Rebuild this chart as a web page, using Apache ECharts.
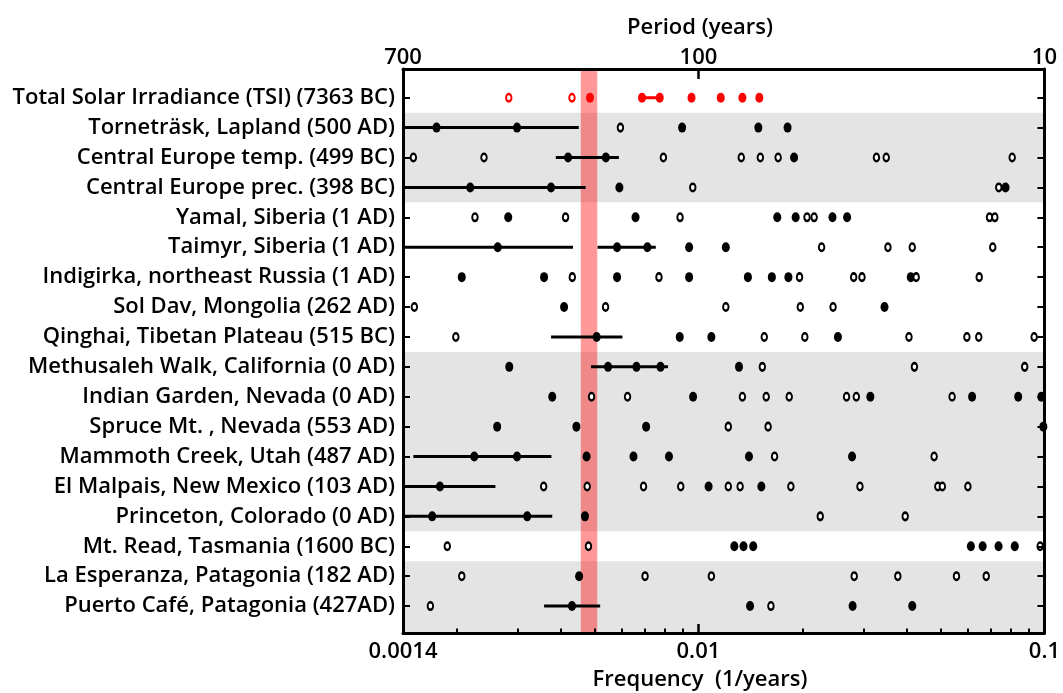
<!DOCTYPE html>
<html>
<head>
<meta charset="utf-8">
<script src="https://cdn.jsdelivr.net/npm/echarts@6/dist/echarts.min.js"></script>
<style>
html,body{margin:0;padding:0;background:#fff;}
#chart{width:1063px;height:693px;}
</style>
</head>
<body>
<div id="chart"></div>
<script>
// ---- data ----
const sites = [
  'Total Solar Irradiance (TSI) (7363 BC)',
  'Torneträsk, Lapland (500 AD)',
  'Central Europe temp. (499 BC)',
  'Central Europe prec. (398 BC)',
  'Yamal, Siberia (1 AD)',
  'Taimyr, Siberia (1 AD)',
  'Indigirka, northeast Russia (1 AD)',
  'Sol Dav, Mongolia (262 AD)',
  'Qinghai, Tibetan Plateau (515 BC)',
  'Methusaleh Walk, California (0 AD)',
  'Indian Garden, Nevada (0 AD)',
  'Spruce Mt. , Nevada (553 AD)',
  'Mammoth Creek, Utah (487 AD)',
  'El Malpais, New Mexico (103 AD)',
  'Princeton, Colorado (0 AD)',
  'Mt. Read, Tasmania (1600 BC)',
  'La Esperanza, Patagonia (182 AD)',
  'Puerto Café, Patagonia (427AD)'
];

// significant peaks (filled) per record, frequency in 1/years
const filledFreq = [
  [0.00486, 0.00687, 0.00773, 0.00955, 0.0116, 0.0134, 0.0150],
  [0.00175, 0.00299, 0.00897, 0.0149, 0.0181],
  [0.00420, 0.00540, 0.0189],
  [0.00219, 0.00375, 0.00591, 0.0772],
  [0.00282, 0.00658, 0.0169, 0.0191, 0.0244, 0.0269],
  [0.00263, 0.00582, 0.00712, 0.00940, 0.0120],
  [0.00207, 0.00358, 0.00582, 0.00940, 0.0139, 0.0163, 0.0182, 0.0411],
  [0.00409, 0.0345],
  [0.00508, 0.00883, 0.0109, 0.0253],
  [0.00284, 0.00548, 0.00662, 0.00777, 0.0131],
  [0.00378, 0.00965, 0.0314, 0.0618, 0.0840, 0.0980],
  [0.00262, 0.00444, 0.00706, 0.0993],
  [0.00225, 0.00299, 0.00475, 0.00649, 0.00822, 0.0140, 0.0278],
  [0.00179, 0.0107, 0.0152],
  [0.00170, 0.00320, 0.00470],
  [0.0127, 0.0135, 0.0144, 0.0613, 0.0663, 0.0737, 0.0821],
  [0.00452],
  [0.00431, 0.0141, 0.0279, 0.0415]
];

// weaker peaks (open) per record
const openFreq = [
  [0.00283, 0.00431],
  [0.00595],
  [0.00150, 0.00240, 0.00792, 0.0133, 0.0151, 0.0170, 0.0327, 0.0349, 0.0807],
  [0.00963, 0.0738],
  [0.00226, 0.00413, 0.00885, 0.0206, 0.0216, 0.0694, 0.0719],
  [0.0227, 0.0353, 0.0415, 0.0709],
  [0.00432, 0.00769, 0.0196, 0.0281, 0.0297, 0.0426, 0.0648],
  [0.00151, 0.00539, 0.0120, 0.0197, 0.0245],
  [0.00199, 0.0155, 0.0203, 0.0406, 0.0597, 0.0646, 0.0934],
  [0.0153, 0.0421, 0.0877],
  [0.00491, 0.00624, 0.0134, 0.0157, 0.0183, 0.0268, 0.0286, 0.0541],
  [0.0122, 0.0159],
  [0.0166, 0.0480],
  [0.00357, 0.00477, 0.00694, 0.00889, 0.0122, 0.0132, 0.0185, 0.0293, 0.0492, 0.0507, 0.0601],
  [0.0225, 0.0396],
  [0.00188, 0.00481, 0.0972],
  [0.00207, 0.00701, 0.0109, 0.0282, 0.0377, 0.0557, 0.0679],
  [0.00168, 0.0162]
];

// frequency ranges (horizontal bars) per record
const rangeFreq = [
  [[0.00687, 0.00773]],
  [[0.0014, 0.00451]],
  [[0.00387, 0.00589]],
  [[0.0014, 0.00472]],
  [],
  [[0.0014, 0.00434], [0.00511, 0.00753]],
  [],
  [],
  [[0.00375, 0.00603]],
  [[0.00489, 0.00817]],
  [],
  [],
  [[0.00150, 0.00376]],
  [[0.0014, 0.00259]],
  [[0.0014, 0.00378]],
  [],
  [],
  [[0.00358, 0.00520]]
];

const shadedGroups = [[1, 3], [9, 14], [16, 17]];   // rows on grey background
const deVriesBand = [0.00457, 0.0051];               // ~200-yr band (frequency)

const freqMin = 0.0014, freqMax = 0.1;
const freqTicks = [0.0014, 0.01, 0.1];
const freqTickLabels = ['0.0014', '0.01', '0.1'];
const periodTickLabels = ['700', '100', '10'];
const minorFreqTicks = [0.002,0.003,0.004,0.005,0.006,0.007,0.008,0.009,0.02,0.03,0.04,0.05,0.06,0.07,0.08,0.09];

// ---- build ----
const rowMin = -0.96, rowMax = 17.9;
const rows = sites.map((_, i) => i);

function pts(arr, tsi) {
  const out = [];
  arr.forEach((list, r) => {
    if ((r === 0) !== tsi) return;
    list.forEach(f => out.push([f, r]));
  });
  return out;
}
function segs(tsi) {
  const out = [];
  rangeFreq.forEach((list, r) => {
    if ((r === 0) !== tsi) return;
    list.forEach(s => out.push([s[0], s[1], r]));
  });
  return out;
}
function tickLabel(labels) {
  return v => {
    let best = 0, bd = Infinity;
    freqTicks.forEach((t, i) => {
      const d = Math.abs(Math.log10(v) - Math.log10(t));
      if (d < bd) { bd = d; best = i; }
    });
    return labels[best];
  };
}

const FONT = 'Open Sans';
const black = '#000';
const red = '#ff0000';

function segRender(color) {
  return function (params, api) {
    const p1 = api.coord([api.value(0), api.value(2)]);
    const p2 = api.coord([api.value(1), api.value(2)]);
    return {
      type: 'line',
      shape: { x1: p1[0], y1: p1[1], x2: p2[0], y2: p2[1] },
      style: { stroke: color, lineWidth: 3 }
    };
  };
}

const greyAreas = shadedGroups.map(g => [
  { yAxis: g[0] - 0.5 },
  { yAxis: g[1] === sites.length - 1 ? rowMax : g[1] + 0.5 }
]);

const chart = echarts.init(document.getElementById('chart'), null, { renderer: 'canvas' });

const axisLineStyle = { color: black, width: 3 };

chart.setOption({
  animation: false,
  backgroundColor: '#fff',
  grid: { left: 403, right: 18, top: 69, bottom: 60, containLabel: false },
  xAxis: [
    {
      type: 'log', logBase: 10, min: freqMin, max: freqMax, position: 'bottom', z: 10,
      axisLine: { onZero: false, lineStyle: axisLineStyle },
      axisTick: { inside: true, length: 9, customValues: [0.01], lineStyle: { color: black, width: 2.5 } },
      axisLabel: { customValues: freqTicks, formatter: tickLabel(freqTickLabels), color: black,
        fontFamily: FONT, fontWeight: 600, fontSize: 22, margin: 8 },
      splitLine: { show: false }, minorTick: { show: false }
    },
    {
      type: 'log', logBase: 10, min: freqMin, max: freqMax, position: 'top', z: 10,
      axisLine: { onZero: false, lineStyle: axisLineStyle },
      axisTick: { inside: true, length: 10, customValues: [0.01], lineStyle: { color: black, width: 2.5 } },
      axisLabel: { customValues: freqTicks, formatter: tickLabel(periodTickLabels), color: black,
        fontFamily: FONT, fontWeight: 600, fontSize: 22, margin: 0 },
      splitLine: { show: false }
    },
    {
      type: 'log', logBase: 10, min: freqMin, max: freqMax, position: 'bottom', z: 10,
      axisLine: { show: false, onZero: false },
      axisTick: { inside: true, length: 4.5, customValues: minorFreqTicks, lineStyle: { color: black, width: 2 } },
      axisLabel: { show: false },
      splitLine: { show: false }
    }
  ],
  yAxis: [
    {
      type: 'value', inverse: true, min: rowMin, max: rowMax, position: 'left', z: 10,
      axisLine: { show: true, onZero: false, lineStyle: axisLineStyle },
      axisTick: { show: true, inside: true, length: 7, customValues: rows, lineStyle: { color: black, width: 2 } },
      axisLabel: { customValues: rows, formatter: v => sites[Math.round(v)], color: black,
        fontFamily: FONT, fontWeight: 600, fontSize: 22, margin: 8 },
      splitLine: { show: false }
    },
    {
      type: 'value', inverse: true, min: rowMin, max: rowMax, position: 'right', z: 10,
      axisLine: { show: true, onZero: false, lineStyle: axisLineStyle },
      axisTick: { show: true, inside: true, length: 7, customValues: rows, lineStyle: { color: black, width: 2 } },
      axisLabel: { show: false },
      splitLine: { show: false }
    }
  ],
  graphic: [
    { type: 'text', x: 700, y: 28, style: { text: 'Period (years)', font: '600 22px "Open Sans"', fill: black, align: 'center', verticalAlign: 'middle' } },
    { type: 'text', x: 700, y: 680, style: { text: 'Frequency  (1/years)', font: '600 22px "Open Sans"', fill: black, align: 'center', verticalAlign: 'middle' } }
  ],
  series: [
    {
      type: 'scatter', name: 'bg', data: [], z: 0,
      markArea: { silent: true, itemStyle: { color: '#e4e4e4' }, data: greyAreas }
    },
    {
      type: 'custom', name: 'ranges', renderItem: segRender(black), data: segs(false),
      encode: { x: [0, 1], y: 2 }, z: 3
    },
    {
      type: 'custom', name: 'rangesTSI', renderItem: segRender(red), data: segs(true),
      encode: { x: [0, 1], y: 2 }, z: 3
    },
    {
      type: 'scatter', name: 'filled', data: pts(filledFreq, false), symbol: 'circle', symbolSize: [8, 10],
      itemStyle: { color: black, opacity: 1 }, z: 4
    },
    {
      type: 'scatter', name: 'open', data: pts(openFreq, false), symbol: 'circle', symbolSize: [5.5, 7.5],
      itemStyle: { color: '#fff', borderColor: black, borderWidth: 2.2, opacity: 1 }, z: 4
    },
    {
      type: 'scatter', name: 'filledTSI', data: pts(filledFreq, true), symbol: 'circle', symbolSize: [8, 10],
      itemStyle: { color: red, opacity: 1 }, z: 4
    },
    {
      type: 'scatter', name: 'openTSI', data: pts(openFreq, true), symbol: 'circle', symbolSize: [5.5, 7.5],
      itemStyle: { color: '#fff', borderColor: red, borderWidth: 2.2, opacity: 1 }, z: 4
    },
    {
      type: 'scatter', name: 'band', data: [], z: 8,
      markArea: { silent: true, itemStyle: { color: 'rgba(255,0,0,0.4)' },
        data: [[{ xAxis: deVriesBand[0] }, { xAxis: deVriesBand[1] }]] }
    }
  ]
});
</script>
</body>
</html>
